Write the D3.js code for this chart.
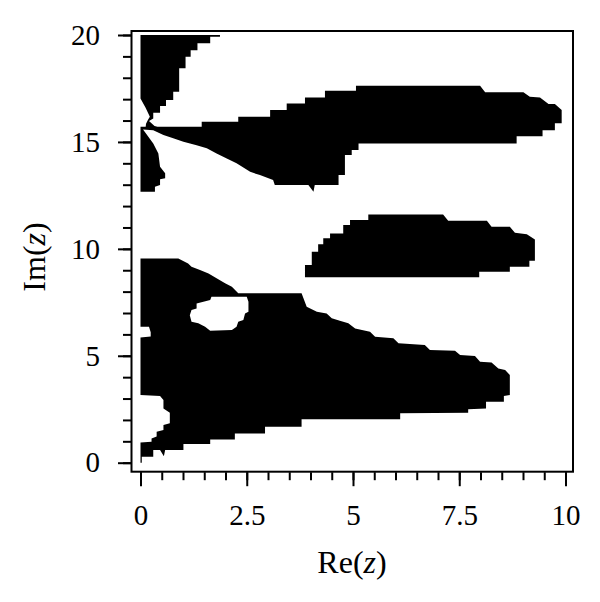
<!DOCTYPE html>
<html>
<head>
<meta charset="utf-8">
<script src="https://cdn.jsdelivr.net/npm/d3@7.9.0/dist/d3.min.js"></script>
<style>
  body { margin: 0; background: #fff; }
  svg { display: block; }
  .tick text { font-family: "Liberation Serif", serif; font-size: 29px; fill: #000; }
  .lab { font-family: "Liberation Serif", serif; font-size: 32px; fill: #000; }
</style>
</head>
<body>
<svg id="chart" width="600" height="602"></svg>
<script>
// tick values / labels
const xMajor = [0, 2.5, 5, 7.5, 10];
const xMinor = d3.range(0, 10.01, 0.5);
const yMajor = [0, 5, 10, 15, 20];
const yMinor = d3.range(0, 20.01, 1);

// black regions, outlines as [Re, Im]
const regionA = [[0,20],[1.87,20],[1.87,19.92],[1.64,19.92],[1.64,19.61],[1.34,19.61],[1.34,19.29],
  [1.18,19.29],[1.18,18.98],[1.06,18.98],[1.06,18.44],[0.91,18.44],[0.91,17.35],[0.77,17.35],
  [0.77,16.96],[0.6,16.96],[0.6,16.68],[0.46,16.68],[0.46,16.36],[0.3,16.36],[0.3,16.1],
  [0.2,15.98],[0.33,15.75],[0.45,15.66],[0.12,15.66],[0.13,15.85],[0.18,16.05],[0.22,16.18],
  [0.12,16.6],[0,17.03]];

const regionB = [[0,15.71],[1.44,15.71],[1.44,15.94],[2.3,15.94],[2.3,16.18],[3.05,16.18],
  [3.05,16.49],[3.44,16.49],[3.44,16.8],[3.87,16.8],[3.87,17.08],[4.34,17.08],[4.34,17.39],
  [5.07,17.39],[5.07,17.63],[7.99,17.63],[8.11,17.32],[9.01,17.32],[9.16,17.11],[9.4,17.08],
  [9.6,16.77],[9.75,16.77],[9.91,16.49],[9.91,15.87],[9.75,15.87],[9.75,15.55],[9.46,15.55],
  [9.46,15.27],[8.85,15.27],[8.85,14.93],[5.13,14.93],[5.13,14.62],[4.97,14.62],[4.97,14.39],
  [4.81,14.39],[4.81,13.45],[4.66,13.45],[4.66,12.98],[4.1,12.98],[4.07,12.67],[3.95,12.98],
  [3.16,12.98],[3.12,13.22],[2.81,13.45],[2.58,13.6],[2.26,14.0],[2.03,14.23],[1.79,14.46],
  [1.56,14.7],[1.32,14.85],[1.01,15.01],[0.77,15.17],[0.54,15.32],[0.3,15.55],[0.06,15.58],
  [0.3,14.93],[0.42,14.46],[0.46,13.84],[0.58,13.53],[0.58,13.3],[0.46,13.25],[0.46,12.98],
  [0.34,12.9],[0.34,12.67],[0,12.67]];

const regionD = [[3.87,8.67],[7.97,8.67],[7.97,8.93],[8.69,8.93],[8.69,9.16],[9.15,9.16],
  [9.15,9.44],[9.28,9.44],[9.28,10.44],[9.09,10.68],[8.81,10.75],[8.69,11.03],[8.26,11.03],
  [8.15,11.31],[7.24,11.31],[7.12,11.61],[5.36,11.61],[5.36,11.35],[4.93,11.35],[4.93,11.11],
  [4.77,11.11],[4.77,10.72],[4.46,10.72],[4.46,10.49],[4.3,10.49],[4.3,10.21],[4.18,10.21],
  [4.18,9.86],[4.03,9.86],[4.03,9.24],[3.87,9.24]];

const regionE = [[0,9.55],[0.89,9.55],[1.12,9.32],[1.2,9.16],[1.4,9.01],[1.6,8.85],[1.79,8.62],
  [1.99,8.39],[2.15,8.23],[2.3,7.92],[3.79,7.92],[3.91,7.29],[4.15,7.06],[4.38,6.98],[4.5,6.75],
  [4.69,6.64],[4.89,6.52],[5.05,6.28],[5.4,6.12],[5.52,5.89],[5.95,5.82],[6.07,5.58],[6.69,5.5],
  [6.81,5.27],[7.4,5.24],[7.52,5.04],[7.87,4.99],[7.99,4.72],[8.26,4.68],[8.42,4.41],[8.58,4.33],
  [8.69,4.1],[8.69,3.16],[8.55,3.12],[8.55,2.85],[8.13,2.85],[8.13,2.54],[7.71,2.5],[7.71,2.34],
  [6.11,2.31],[6.11,2.03],[3.79,2.03],[3.79,1.68],[2.93,1.68],[2.93,1.37],[2.22,1.37],[2.22,1.09],
  [1.64,1.09],[1.64,0.87],[1.01,0.87],[1.01,0.59],[0.58,0.59],[0.55,0.3],[0.46,0.59],[0.3,0.59],
  [0.3,0.28],[0.03,0.28],[0.03,0],[0,0],[0,0.94],[0.26,0.98],[0.26,1.13],[0.38,1.22],[0.38,1.45],
  [0.54,1.53],[0.54,1.76],[0.69,1.84],[0.69,2.34],[0.54,2.54],[0.54,2.93],[0.46,3.12],[0,3.16],
  [0,5.85],[0.24,5.9],[0.24,6.1],[0.2,6.36],[0,6.36]];

const holeE = [[1.32,7.45],[1.64,7.61],[1.67,7.76],[2.5,7.76],[2.54,7.53],[2.54,7.06],[2.46,6.98],
  [2.42,6.67],[2.3,6.59],[2.26,6.36],[2.15,6.2],[1.64,6.17],[1.52,6.36],[1.36,6.52],[1.2,6.59],
  [1.16,6.9],[1.2,7.14],[1.32,7.21]];

const svg = d3.select('#chart');

const x = d3.scaleLinear().domain([0, 10]).range([140.5, 565.5]);
const y = d3.scaleLinear().domain([0, 20]).range([462.7, 35]);

const line = d3.line().x((d) => x(d[0])).y((d) => y(d[1]));
const ring = (pts) => line(pts) + 'Z';

// regions
svg.append('path').attr('d', ring(regionA)).attr('fill', '#000');
svg.append('path').attr('d', ring(regionB)).attr('fill', '#000');
svg.append('path').attr('d', ring(regionD)).attr('fill', '#000');
svg.append('path')
  .attr('d', ring(regionE) + ring(holeE))
  .attr('fill', '#000')
  .attr('fill-rule', 'evenodd');

// frame
const fx0 = 131.5, fx1 = 573, fy0 = 31, fy1 = 471.7;
svg.append('rect')
  .attr('x', fx0).attr('y', fy0)
  .attr('width', fx1 - fx0).attr('height', fy1 - fy0)
  .attr('fill', 'none').attr('stroke', '#000').attr('stroke-width', 2);

// x axis
const gx = svg.append('g').attr('transform', `translate(0,${fy1 + 0.5})`);
gx.append('g').call(d3.axisBottom(x).tickValues(xMinor).tickSize(8).tickFormat(''));
gx.append('g').call(d3.axisBottom(x).tickValues(xMajor).tickSize(14).tickPadding(18)
  .tickFormat(d3.format('')));
gx.selectAll('.domain').remove();

// y axis
const gy = svg.append('g').attr('transform', `translate(${fx0 - 0.5},0)`);
gy.append('g').call(d3.axisLeft(y).tickValues(yMinor).tickSize(8).tickFormat(''));
gy.append('g').call(d3.axisLeft(y).tickValues(yMajor).tickSize(13).tickPadding(18));
gy.selectAll('.domain').remove();

svg.selectAll('.tick line').attr('stroke', '#000').attr('stroke-width', 2);

// axis titles
const xl = svg.append('text').attr('class', 'lab')
  .attr('x', 352).attr('y', 573).attr('text-anchor', 'middle');
xl.append('tspan').text('Re(');
xl.append('tspan').attr('font-style', 'italic').text('z');
xl.append('tspan').text(')');

const yl = svg.append('text').attr('class', 'lab')
  .attr('transform', 'translate(45,257) rotate(-90)').attr('text-anchor', 'middle');
yl.append('tspan').text('Im(');
yl.append('tspan').attr('font-style', 'italic').text('z');
yl.append('tspan').text(')');
</script>
</body>
</html>
